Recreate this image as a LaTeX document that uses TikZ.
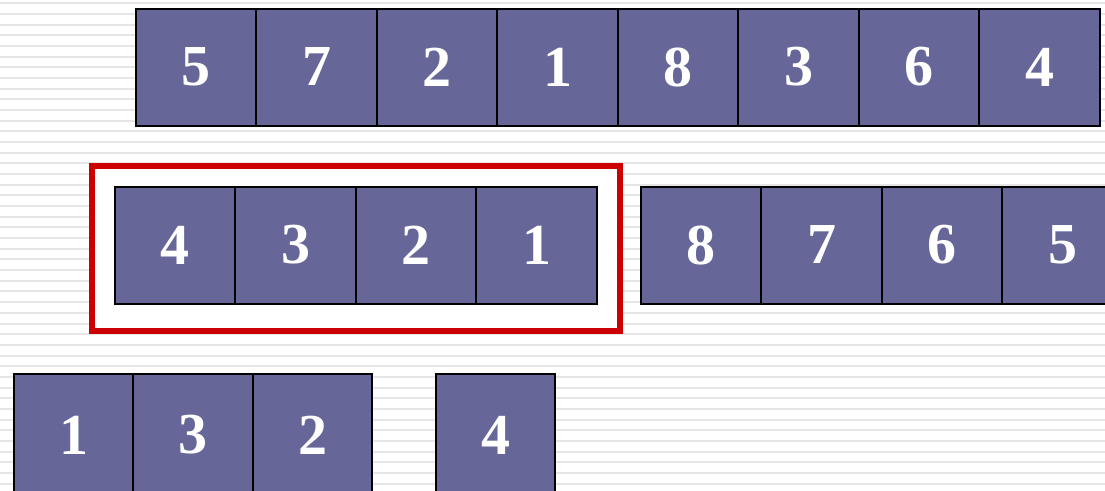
\documentclass[tikz,border=0pt]{standalone}
\usepackage{fontspec}
\setmainfont{Liberation Serif}
\usetikzlibrary{positioning, fit, backgrounds}
\definecolor{cellblue}{RGB}{102,102,153}
\definecolor{boxred}{RGB}{204,0,0}
\definecolor{stripegray}{RGB}{230,230,230}
\pgfdeclarelayer{stripes}
\pgfsetlayers{stripes,background,main}

\begin{document}
\begin{tikzpicture}[x=1pt, y=-1pt,
  cell/.style={draw=black, line width=2pt, fill=cellblue, text=white,
    font=\bfseries\fontsize{58}{58}\selectfont,
    minimum width=120.5pt, minimum height=117pt, inner sep=0pt, outer sep=0pt},
  lowcell/.style={cell, minimum width=119.5pt, minimum height=122pt}]
\useasboundingbox (0,0) rectangle (1105,490);
\clip (0,0) rectangle (1105,490);

% striped page
\begin{pgfonlayer}{stripes}
\fill[white] (0,0) rectangle (1105,490);
\foreach \k in {0,...,45}
  \fill[stripegray] (0,{2.4+10.67*\k}) rectangle (1105,{4.4+10.67*\k});
\end{pgfonlayer}

% whole list
\node[cell] (top1) at (196.2,67) {5};
\foreach \d [count=\i from 2, remember=\i as \j (initially 1)] in {7,2,1,8,3,6,4}
  \node[cell, right=0pt of top\j] (top\i) {\d};

% two halves
\node[cell] (mid1) at (175.2,245) {4};
\foreach \d [count=\i from 2, remember=\i as \j (initially 1)] in {3,2,1}
  \node[cell, right=0pt of mid\j] (mid\i) {\d};
\node[cell] (rest1) at (701.2,245) {8};
\foreach \d [count=\i from 2, remember=\i as \j (initially 1)] in {7,6,5}
  \node[cell, right=0pt of rest\j] (rest\i) {\d};

\begin{scope}[on background layer]
\node[draw=boxred, line width=5.5pt, fill=white, fit={(mid1) (mid4)},
  inner xsep=23pt, inner ysep=24pt, yshift=-3.5pt] (pick) {};
\end{scope}

% next split
\node[lowcell] (low1) at (73.5,435) {1};
\node[lowcell, right=0pt of low1] (low2) {3};
\node[lowcell, right=0pt of low2] (low3) {2};
\node[lowcell] (low4) at (495.5,435) {4};
\end{tikzpicture}
\end{document}
